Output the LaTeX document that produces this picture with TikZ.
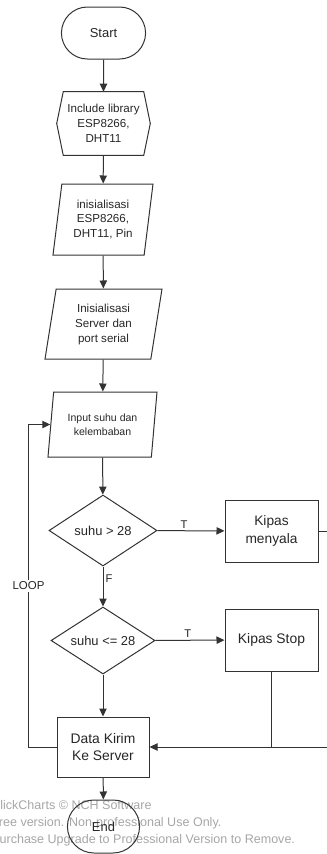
\documentclass[tikz,border=0pt]{standalone}
\usepackage{fontspec}
\setmainfont{Liberation Sans}
\usetikzlibrary{shapes.geometric,shapes.misc,arrows.meta}

\tikzset{
  line/.style={draw=black!80, line width=0.75pt},
  term/.style={rounded rectangle, line, text=black!85, minimum width=69.75pt, minimum height=39pt, font=\fontsize{9.7pt}{12pt}\selectfont},
  io/.style={trapezium, trapezium stretches body, line, text=black!85, align=center, inner sep=1pt},
  decision/.style={diamond, line, text=black!85, inner sep=0pt, aspect=1.5, font=\fontsize{9.7pt}{12pt}\selectfont},
  process/.style={rectangle, line, text=black!85, align=center, minimum width=69.75pt, minimum height=46.5pt, font=\fontsize{10.4pt}{13pt}\selectfont},
  lbl/.style={text=black!85, font=\fontsize{8.4pt}{10pt}\selectfont, inner sep=1.5pt}
}

\begin{document}
\begin{tikzpicture}[x=0.75pt, y=-0.75pt, >={Triangle[length=6pt,width=5.5pt]}]
\useasboundingbox (0,0) rectangle (326,854);

% watermark
\node[anchor=base west, align=left, text=black!35, inner sep=0pt,
  font=\fontsize{9.4pt}{12.75pt}\selectfont] (wm) at (-9,843)
  {ClickCharts \textcopyright{} NCH Software\\Free version. Non-professional Use Only.\\Purchase Upgrade to Professional Version to Remove.};

\node[term] (start) at (103.5,33) {Start};
\node[align=center, minimum width=60pt, minimum height=47.25pt, text=black!85, inner sep=0pt,
  font=\fontsize{8.7pt}{11.25pt}\selectfont] (lib) at (103.5,123.5) {Include library\\ESP8266,\\DHT11};
\draw[line] (lib.north west) -- (lib.north east) -- ([xshift=4.9pt]lib.east) -- (lib.south east)
  -- (lib.south west) -- ([xshift=-4.9pt]lib.west) -- cycle;
\node[io, trapezium left angle=78, trapezium right angle=102, minimum width=75pt, minimum height=53.25pt,
  font=\fontsize{8.7pt}{10.9pt}\selectfont] (ini) at (103,219.5) {inisialisasi\\ESP8266,\\DHT11, Pin};
\node[io, trapezium left angle=75.6, trapezium right angle=104.4, minimum width=87.75pt, minimum height=52.5pt,
  font=\fontsize{8.7pt}{11.25pt}\selectfont] (srv) at (103.5,324) {Inisialisasi\\Server dan\\port serial};
\node[io, trapezium left angle=77, trapezium right angle=103, minimum width=81.75pt, minimum height=48.75pt,
  font=\fontsize{7.9pt}{10.5pt}\selectfont] (inp) at (102.5,424.5) {Input suhu dan\\kelembaban};
\node[decision, minimum width=81pt, minimum height=53.25pt] (cek1) at (103,530.5) {suhu > 28};
\node[process, font=\fontsize{10.3pt}{13.5pt}\selectfont] (nyala) at (271.5,531) {Kipas\\menyala};
\node[decision, minimum width=78pt, minimum height=50.25pt] (cek2) at (103,640.5) {suhu <= 28};
\node[process] (stop) at (271.5,640) {Kipas Stop};
\node[process, minimum width=69pt, minimum height=45pt, font=\fontsize{10.4pt}{12.75pt}\selectfont] (kirim) at (103,747) {Data Kirim\\Ke Server};
\node[term, minimum width=60.75pt, minimum height=39.75pt] (end) at (103.5,826.5) {End};

% alur utama
\draw[line,->] (start) -- (lib);
\draw[line,->] (lib) -- (ini);
\draw[line,->] (ini) -- (srv);
\draw[line,->] (srv) -- (inp);
\draw[line,->] (inp) -- (cek1);
\draw[line,->] (cek1) -- node[lbl, above, pos=0.4] {T} (nyala);
\draw[line,->] (cek1) -- node[lbl, right, pos=0.3] {F} (cek2);
\draw[line,->] (cek2) -- node[lbl, above, pos=0.47] {T} (stop);
\draw[line,->] (cek2) -- (kirim);
\draw[line,->] (kirim) -- (end);
% kembali ke server
\draw[line,->] (nyala.east) -- ++(14,0) |- (kirim.east);
\draw[line] (stop.south) -- (stop.south |- kirim.east);
% loop
\draw[line,->] (kirim.west) -- ++(-28,0) |- (inp.west)
  node[lbl, fill=white, pos=0.25, font=\fontsize{8.6pt}{10pt}\selectfont] {LOOP};
\end{tikzpicture}
\end{document}
